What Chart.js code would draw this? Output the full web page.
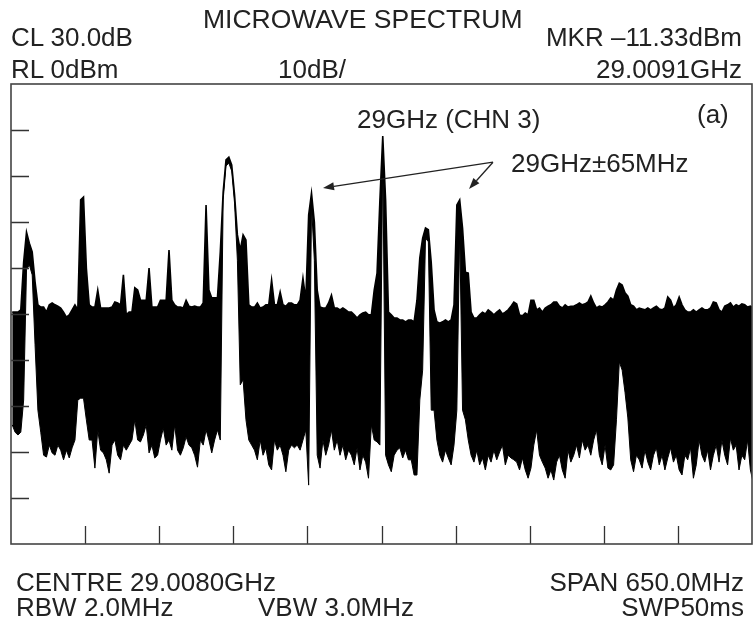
<!DOCTYPE html>
<html>
<head>
<meta charset="utf-8">
<script src="https://cdn.jsdelivr.net/npm/chart.js@4.4.1/dist/chart.umd.min.js"></script>
<style>
  html, body { margin: 0; padding: 0; background: #fff; }
  #wrap { position: relative; width: 755px; height: 617px; overflow: hidden; }
  #spectrum { position: absolute; left: 0; top: 0; }
  .lbl {
    position: absolute; white-space: nowrap;
    font-family: "Liberation Sans", Arial, sans-serif;
    font-size: 26px; line-height: 26px; color: #222;
  }
  .r { text-align: right; }
</style>
</head>
<body>
<div id="wrap">
  <canvas id="spectrum" width="755" height="617"></canvas>

  <div class="lbl" style="left:203px; top:6px; font-size:26.5px;">MICROWAVE SPECTRUM</div>
  <div class="lbl" style="left:11px; top:24px;">CL 30.0dB</div>
  <div class="lbl r" style="right:13px; top:24px;">MKR &ndash;11.33dBm</div>
  <div class="lbl" style="left:11px; top:56px;">RL 0dBm</div>
  <div class="lbl" style="left:278px; top:56px;">10dB/</div>
  <div class="lbl r" style="right:13px; top:56px;">29.0091GHz</div>

  <div class="lbl" style="left:357px; top:106px;">29GHz (CHN 3)</div>
  <div class="lbl" style="left:697px; top:101px;">(a)</div>
  <div class="lbl" style="left:511px; top:150px;">29GHz&plusmn;65MHz</div>

  <div class="lbl" style="left:16px; top:569px;">CENTRE 29.0080GHz</div>
  <div class="lbl r" style="right:11px; top:569px;">SPAN 650.0MHz</div>
  <div class="lbl" style="left:16px; top:594px;">RBW 2.0MHz</div>
  <div class="lbl" style="left:258px; top:594px;">VBW 3.0MHz</div>
  <div class="lbl r" style="right:11px; top:594px;">SWP50ms</div>
</div>

<script>
// analyser settings
const centreGHz = 29.008;
const spanGHz = 0.650;
const refLevelDbm = 0;
const dbPerDiv = 10;
const divisions = 10;

// trace bins: first bin frequency and bin width
const firstBinGHz = 28.6841;
const binStepGHz = 0.0025;

// top of the trace in each bin (dBm)
const traceHigh = [
  -49.6, -49.6, -49.6, -49.1, -38.7, -32.2, -34.6, -36.5, -43.0, -48.0,
  -48.5, -48.5, -49.6, -48.0, -47.6, -48.0, -48.3, -48.7, -49.6, -50.7,
  -50.2, -49.1, -48.0, -49.1, -25.2, -24.6, -40.0, -48.0, -48.5, -48.5,
  -44.8, -48.7, -48.7, -48.7, -48.7, -48.5, -47.4, -47.6, -48.0, -41.5,
  -50.2, -49.6, -49.6, -44.3, -44.8, -47.0, -47.0, -47.0, -40.0, -48.5,
  -48.5, -48.5, -47.0, -47.0, -47.0, -36.1, -47.0, -48.0, -48.5, -48.5,
  -48.7, -47.0, -48.3, -48.5, -48.3, -48.5, -48.5, -47.6, -26.3, -44.8,
  -46.5, -46.5, -46.5, -36.5, -23.5, -16.5, -15.9, -17.6, -24.1, -32.8,
  -36.1, -32.8, -33.9, -48.0, -48.5, -48.5, -47.6, -48.7, -48.5, -48.0,
  -48.0, -42.6, -48.0, -48.0, -45.2, -48.0, -48.3, -47.6, -47.6, -48.0,
  -48.0, -47.0, -42.2, -47.0, -28.5, -23.7, -30.0, -44.8, -48.5, -48.7,
  -48.7, -47.6, -45.9, -48.7, -48.7, -49.1, -48.7, -49.1, -49.6, -49.6,
  -50.2, -50.9, -50.2, -49.8, -49.6, -50.2, -50.2, -44.8, -41.1, -25.2,
  -11.33, -25.2, -49.6, -50.2, -50.9, -50.9, -51.3, -51.3, -51.7, -51.3,
  -51.3, -51.7, -47.0, -37.8, -33.5, -31.3, -31.7, -38.7, -49.1, -51.7,
  -52.0, -51.7, -51.3, -51.7, -51.3, -48.0, -26.3, -25.2, -31.3, -40.9,
  -41.1, -49.6, -50.9, -50.9, -50.2, -49.6, -50.0, -49.1, -49.6, -50.2,
  -49.6, -49.1, -50.0, -49.6, -49.1, -48.3, -47.4, -47.8, -50.2, -50.4,
  -49.8, -50.2, -47.0, -47.0, -49.1, -48.7, -49.6, -48.7, -48.3, -48.0,
  -47.4, -47.4, -48.3, -48.7, -48.0, -48.5, -48.3, -48.3, -48.0, -47.6,
  -48.0, -47.8, -47.4, -46.1, -47.6, -48.7, -48.3, -48.5, -48.0, -47.4,
  -46.5, -47.0, -44.8, -43.3, -43.7, -45.4, -46.1, -48.0, -48.3, -49.1,
  -48.7, -48.9, -49.1, -48.7, -49.1, -48.7, -48.3, -48.9, -49.1, -48.7,
  -46.3, -47.0, -48.7, -48.0, -46.3, -48.0, -49.1, -49.6, -49.6, -49.1,
  -49.6, -49.1, -48.7, -49.1, -49.1, -48.7, -47.4, -47.6, -49.1, -49.6,
  -48.3, -48.0, -47.6, -48.5, -48.0, -48.3, -47.8, -48.0, -48.5, -48.3,
  -48.7
];

// bottom of the trace in each bin (dBm)
const traceLow = [
  -74.1, -75.7, -76.3, -75.7, -68.7, -40.4, -39.3, -41.5, -56.7, -70.9,
  -75.7, -80.7, -81.1, -78.5, -80.2, -80.7, -78.5, -79.6, -81.7, -79.6,
  -81.3, -79.1, -77.4, -68.7, -68.3, -68.3, -73.0, -77.4, -77.4, -83.5,
  -75.2, -79.6, -80.2, -81.7, -84.6, -78.5, -77.4, -80.7, -81.7, -78.5,
  -79.6, -78.5, -77.4, -73.0, -77.4, -77.8, -76.3, -74.1, -80.2, -78.5,
  -81.3, -80.7, -77.4, -74.8, -78.5, -77.4, -79.6, -74.1, -79.6, -80.7,
  -79.1, -76.7, -78.5, -79.1, -80.7, -83.3, -77.4, -78.5, -75.2, -77.4,
  -80.2, -77.4, -75.2, -77.4, -25.2, -17.8, -17.2, -18.9, -25.9, -38.3,
  -65.4, -64.3, -73.0, -77.4, -78.5, -79.6, -81.7, -77.4, -80.7, -79.1,
  -82.8, -83.9, -77.4, -79.6, -78.5, -80.7, -84.3, -79.6, -78.5, -79.1,
  -78.5, -79.6, -77.4, -75.2, -87.2, -26.3, -38.3, -80.7, -83.5, -77.4,
  -80.7, -78.5, -75.2, -79.6, -77.4, -80.7, -78.5, -81.7, -79.6, -80.7,
  -82.8, -79.1, -83.9, -80.7, -82.2, -85.7, -74.1, -77.4, -77.8, -78.5,
  -15.4, -80.7, -82.8, -84.3, -80.7, -79.6, -79.1, -81.3, -79.6, -81.7,
  -81.7, -85.0, -85.0, -68.7, -62.2, -33.5, -34.3, -70.9, -70.9, -77.4,
  -80.7, -82.2, -79.6, -81.3, -82.8, -78.5, -70.9, -31.7, -70.9, -73.0,
  -77.4, -80.7, -82.2, -79.6, -82.8, -81.3, -83.9, -80.7, -82.2, -79.6,
  -81.7, -80.0, -78.5, -82.8, -80.7, -81.3, -81.7, -82.2, -83.9, -81.3,
  -83.9, -85.7, -83.5, -78.5, -75.2, -80.7, -82.2, -83.5, -85.7, -83.9,
  -86.1, -82.2, -80.7, -83.9, -85.7, -79.6, -82.2, -80.7, -78.5, -81.3,
  -77.4, -79.6, -78.5, -80.7, -77.4, -75.2, -80.7, -82.8, -78.5, -83.5,
  -83.9, -82.8, -73.0, -60.4, -62.2, -67.0, -72.6, -81.7, -84.3, -80.7,
  -81.7, -83.5, -79.6, -82.2, -83.9, -80.7, -79.1, -82.8, -80.7, -83.9,
  -81.3, -79.1, -82.2, -80.7, -83.9, -85.0, -80.7, -81.7, -79.1, -85.7,
  -82.8, -77.4, -80.7, -82.2, -79.6, -83.9, -80.7, -78.5, -82.2, -77.4,
  -80.7, -82.8, -77.0, -79.6, -78.5, -83.9, -80.7, -81.7, -77.4, -83.9,
  -86.7
];

// arrows for the 29GHz±65MHz sidebands: [fromGHz, fromDbm, toGHz, toDbm]
const sidebandArrows = [
  [29.1058, -17.0, 28.9567, -22.6],
  [29.1058, -17.0, 29.0848, -22.8]
];

const startGHz = centreGHz - spanGHz / 2;
const stopGHz = centreGHz + spanGHz / 2;
const bottomDbm = refLevelDbm - dbPerDiv * divisions;

const highPts = traceHigh.map((v, i) => ({ x: firstBinGHz + i * binStepGHz, y: v }));
const lowPts = traceLow.map((v, i) => ({ x: firstBinGHz + i * binStepGHz, y: v }));

// graticule frame, inward tick marks and the annotation arrows
const screenPlugin = {
  id: 'screen',
  afterDatasetsDraw(chart) {
    const { ctx, chartArea: a, scales } = chart;
    const xs = scales.x, ys = scales.y;
    ctx.save();
    ctx.strokeStyle = '#333';
    ctx.lineWidth = 1.3;
    ctx.beginPath();
    for (let i = 1; i < divisions; i++) {
      const y = Math.round(ys.getPixelForValue(refLevelDbm - i * dbPerDiv)) + 0.5;
      ctx.moveTo(a.left, y);
      ctx.lineTo(a.left + 18, y);
      const x = Math.round(xs.getPixelForValue(startGHz + i * spanGHz / divisions)) + 0.5;
      ctx.moveTo(x, a.bottom);
      ctx.lineTo(x, a.bottom - 18);
    }
    ctx.stroke();

    ctx.strokeStyle = '#444';
    ctx.lineWidth = 1.6;
    ctx.strokeRect(a.left, a.top, a.right - a.left, a.bottom - a.top);

    // arrows
    ctx.strokeStyle = '#222';
    ctx.fillStyle = '#222';
    ctx.lineWidth = 1.3;
    sidebandArrows.forEach(([x0, y0, x1, y1]) => {
      const px0 = xs.getPixelForValue(x0), py0 = ys.getPixelForValue(y0);
      const px1 = xs.getPixelForValue(x1), py1 = ys.getPixelForValue(y1);
      const ang = Math.atan2(py1 - py0, px1 - px0);
      const len = 11, half = 4;
      const bx = px1 - len * Math.cos(ang), by = py1 - len * Math.sin(ang);
      ctx.beginPath();
      ctx.moveTo(px0, py0);
      ctx.lineTo(bx, by);
      ctx.stroke();
      ctx.beginPath();
      ctx.moveTo(px1, py1);
      ctx.lineTo(bx + half * Math.sin(ang), by - half * Math.cos(ang));
      ctx.lineTo(bx - half * Math.sin(ang), by + half * Math.cos(ang));
      ctx.closePath();
      ctx.fill();
    });
    ctx.restore();
  }
};

new Chart(document.getElementById('spectrum').getContext('2d'), {
  type: 'line',
  data: {
    datasets: [
      {
        data: lowPts,
        borderColor: '#000',
        borderWidth: 1,
        pointRadius: 0,
        tension: 0,
        fill: false
      },
      {
        data: highPts,
        borderColor: '#000',
        borderWidth: 1.6,
        pointRadius: 0,
        tension: 0,
        fill: '-1',
        backgroundColor: '#000'
      }
    ]
  },
  options: {
    responsive: false,
    animation: false,
    events: [],
    layout: { padding: { left: 11, top: 84, right: 3, bottom: 73 } },
    scales: {
      x: { type: 'linear', min: startGHz, max: stopGHz, display: false },
      y: { type: 'linear', min: bottomDbm, max: refLevelDbm, display: false }
    },
    plugins: {
      legend: { display: false },
      tooltip: { enabled: false }
    }
  },
  plugins: [screenPlugin]
});
</script>
</body>
</html>
